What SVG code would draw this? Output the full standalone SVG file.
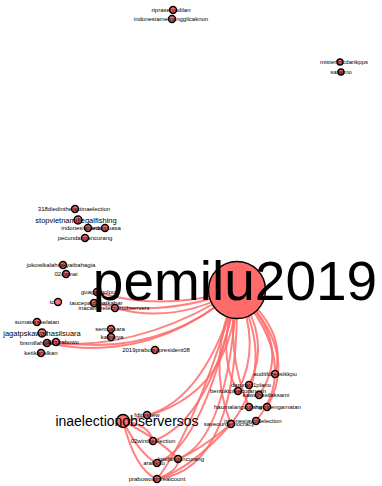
<svg xmlns="http://www.w3.org/2000/svg" width="382" height="486" viewBox="0 0 382 486">
<style>
  .e { fill: none; stroke: #ff6b6b; stroke-opacity: 0.85; stroke-width: 2; }
  .n { fill: #ff6b6b; stroke: #000; stroke-width: 1.4; }
  .l { font-family: "Liberation Sans", Arial, sans-serif; font-size: 6px; fill: #000000; text-anchor: middle; }
  .m { font-family: "Liberation Sans", Arial, sans-serif; font-size: 7.5px; fill: #000000; text-anchor: middle; }
</style>
<rect width="382" height="486" fill="#fff"/>

<g id="edges">
  <!-- hub to left-hand nodes -->
  <path class="e" d="M237,290 Q165,318 94,303"/>
  <path class="e" d="M237,290 Q175,325 115,308"/>
  <path class="e" d="M237,290 Q160,312 97,292"/>
  <path class="e" d="M237,290 Q150,365 47,343"/>
  <path class="e" d="M237,290 Q160,358 56,342"/>
  <path class="e" d="M237,290 Q140,352 47,343"/>
  <!-- hub to lower-left nodes -->
  <path class="e" d="M237,290 Q232,405 123,421"/>
  <path class="e" d="M237,290 Q205,400 147,415"/>
  <path class="e" d="M237,290 Q212,420 153,441"/>
  <path class="e" d="M237,290 Q228,440 178,459"/>
  <path class="e" d="M237,290 Q205,445 157,463"/>
  <path class="e" d="M237,290 Q240,470 157,479"/>
  <path class="e" d="M237,290 Q195,430 157,479"/>
  <!-- hub to lower-right cluster -->
  <path class="e" d="M237,290 Q288,330 275,374"/>
  <path class="e" d="M237,290 Q272,340 249,385"/>
  <path class="e" d="M237,290 Q262,345 238,391"/>
  <path class="e" d="M237,290 Q294,345 259,395"/>
  <path class="e" d="M237,290 Q225,350 249,407"/>
  <path class="e" d="M237,290 Q300,350 267,407"/>
  <path class="e" d="M237,290 Q302,365 256,421"/>
  <path class="e" d="M237,290 Q205,360 231,424"/>
  <path class="e" d="M237,290 Q277,365 231,424"/>
  <path class="e" d="M237,290 Q215,355 238,391"/>
  <!-- ties among the lower nodes -->
  <path class="e" d="M123,421 Q150,425 153,441"/>
  <path class="e" d="M123,421 Q140,455 157,463"/>
  <path class="e" d="M123,421 Q135,470 157,479"/>
  <path class="e" d="M123,421 Q160,440 178,459"/>
  <path class="e" d="M157,463 Q170,455 178,459"/>
  <path class="e" d="M157,479 Q180,470 178,459"/>
  <path class="e" d="M231,424 Q200,450 178,459"/>
  <path class="e" d="M231,424 Q190,470 157,479"/>
</g>

<g id="n-riprasetyadilan"><circle class="n" cx="173" cy="10" r="3.5"/><text class="l" x="171" y="12">riprasetyadilan</text></g>
<g id="n-indonesiamemanggilcaknun"><circle class="n" cx="172" cy="19" r="3.5"/><text class="l" x="171" y="21">indonesiamemanggilcaknun</text></g>
<g id="n-misterlincdankpps"><circle class="n" cx="340" cy="62" r="3"/><text class="l" x="344" y="64">misterlincdankpps</text></g>
<g id="n-saranno"><circle class="n" cx="341" cy="72" r="3"/><text class="l" x="341" y="74">saranno</text></g>

<g id="n-318diedinthelastinaelection"><circle class="n" cx="75" cy="209" r="3.5"/><text class="l" x="74" y="211">318diedinthelastinaelection</text></g>
<g id="n-stopvietnamillegalfishing"><circle class="n" cx="78" cy="220" r="4"/><text class="m" x="76" y="223">stopvietnamillegalfishing</text></g>
<g id="n-indonesiaberduka"><circle class="n" cx="88" cy="228" r="3.5"/><text class="l" x="85" y="230">indonesiaberduka</text></g>
<g id="n-tetappuasa"><circle class="n" cx="105" cy="228" r="3.5"/><text class="l" x="106" y="230">tetappuasa</text></g>
<g id="n-pecundangancurang"><circle class="n" cx="85" cy="238" r="3.5"/><text class="l" x="85" y="240">pecundangancurang</text></g>

<g id="n-jokowikalahrakyatbahagia"><circle class="n" cx="63" cy="265" r="3.5"/><text class="l" x="61" y="267">jokowikalahrakyatbahagia</text></g>
<g id="n-02damai"><circle class="n" cx="66" cy="274" r="3.5"/><text class="l" x="66" y="276">02damai</text></g>
<g id="n-guagakgolput"><circle class="n" cx="97" cy="292" r="3.5"/><text class="l" x="99" y="294">guagakgolput</text></g>
<g id="n-tc"><circle class="n" cx="58" cy="302" r="3.5"/><text class="l" x="52" y="304">tc</text></g>
<g id="n-taucepatdapatkabar"><circle class="n" cx="94" cy="303" r="3.5"/><text class="l" x="96" y="305">taucepatdapatkabar</text></g>
<g id="n-inacallforelectionobservers"><circle class="n" cx="115" cy="308" r="3.5"/><text class="l" x="114" y="310">inacallforelectionobservers</text></g>

<g id="n-sumateraselatan"><circle class="n" cx="37" cy="322" r="3.5"/><text class="l" x="37" y="324">sumateraselatan</text></g>
<g id="n-jagatpskawalhasilsuara"><circle class="n" cx="42" cy="333" r="4"/><text class="m" x="42" y="336">jagatpskawalhasilsuara</text></g>
<g id="n-bismillahjokowi"><circle class="n" cx="47" cy="343" r="3.5"/><text class="l" x="40" y="345">bismillahjokowi</text></g>
<g id="n-pilihprabowo"><circle class="n" cx="56" cy="342" r="3.5"/><text class="l" x="62" y="344">pilihprabowo</text></g>
<g id="n-ketikanalkan"><circle class="n" cx="41" cy="353" r="3.5"/><text class="l" x="41" y="355">ketikanalkan</text></g>
<g id="n-semuasara"><circle class="n" cx="111" cy="329" r="3.5"/><text class="l" x="110" y="331">semuasara</text></g>
<g id="n-kalbarya"><circle class="n" cx="111" cy="337" r="3.5"/><text class="l" x="112" y="339">kalbarya</text></g>
<g id="n-2019prabowopresident08"><circle class="n" cx="155" cy="350" r="3.5"/><text class="l" x="156" y="352">2019prabowopresident08</text></g>

<g id="n-pemilu2019"><circle class="n" cx="237" cy="290" r="28.5"/><text class="l" x="235" y="300" style="font-size:55px">pemilu2019</text></g>

<g id="n-auditforensikkpu"><circle class="n" cx="275" cy="374" r="3.5"/><text class="l" x="275" y="376">auditforensikkpu</text></g>
<g id="n-daruratc1plano"><circle class="n" cx="249" cy="385" r="3.5"/><text class="l" x="251" y="387">daruratc1plano</text></g>
<g id="n-bentuktpfkecurangan"><circle class="n" cx="238" cy="391" r="3.5"/><text class="l" x="238" y="393">bentuktpfkecurangan</text></g>
<g id="n-kawalilaksami"><circle class="n" cx="259" cy="395" r="3.5"/><text class="l" x="266" y="397">kawalhasilaksami</text></g>
<g id="n-haumalangcurang"><circle class="n" cx="249" cy="407" r="3.5"/><text class="l" x="238" y="409">haumalangcurang</text></g>
<g id="n-hasilpengamatan"><circle class="n" cx="267" cy="407" r="3.5"/><text class="l" x="278" y="409">hasilpengamatan</text></g>
<g id="n-indonesiavoidelection"><circle class="n" cx="256" cy="421" r="3.5"/><text class="l" x="253" y="423">indonesiavoidelection</text></g>
<g id="n-saveourdemocracy"><circle class="n" cx="231" cy="424" r="3.5"/><text class="l" x="229" y="426">saveourdemocracy</text></g>

<g id="n-inaelectionobserversos"><circle class="n" cx="123" cy="421" r="6.5"/><text class="l" x="127" y="426" style="font-size:14px">inaelectionobserversos</text></g>
<g id="n-fdtrvssew"><circle class="n" cx="147" cy="415" r="3.5"/><text class="l" x="147" y="417">fdtrvssew</text></g>
<g id="n-02wintheelection"><circle class="n" cx="153" cy="441" r="3.5"/><text class="l" x="153" y="443">02wintheelection</text></g>
<g id="n-kpucurang"><circle class="n" cx="178" cy="459" r="3.5"/><text class="l" x="181" y="461">kpujangancurang</text></g>
<g id="n-arahkpu"><circle class="n" cx="157" cy="463" r="3.5"/><text class="l" x="154" y="465">arahkpu</text></g>
<g id="n-prabowowinrealcount"><circle class="n" cx="157" cy="479" r="3.5"/><text class="l" x="157" y="481">prabowowinrealcount</text></g>
</svg>
